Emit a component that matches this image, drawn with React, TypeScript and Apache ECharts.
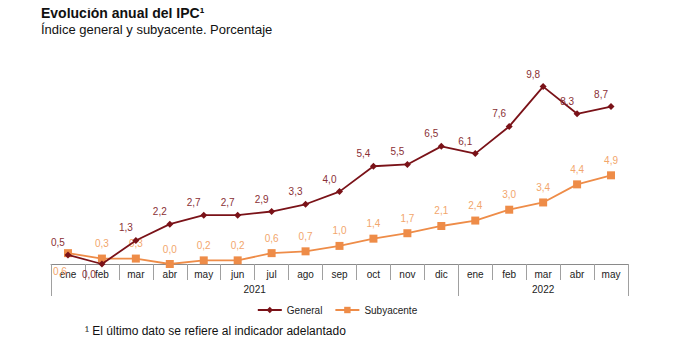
import React, { useEffect, useRef } from "react";
import * as echarts from "echarts";

const months = ["ene","feb","mar","abr","may","jun","jul","ago","sep","oct","nov","dic","ene","feb","mar","abr","may"];
const years = ["2021", "2022"];
const general = [0.5, 0.0, 1.3, 2.2, 2.7, 2.7, 2.9, 3.3, 4.0, 5.4, 5.5, 6.5, 6.1, 7.6, 9.8, 8.3, 8.7];
const subyacente = [0.6, 0.3, 0.3, 0.0, 0.2, 0.2, 0.6, 0.7, 1.0, 1.4, 1.7, 2.1, 2.4, 3.0, 3.4, 4.4, 4.9];

const RED = "#7a1218";
const ORANGE = "#ee8c48";
const fmt = (v: number) => v.toFixed(1).replace(".", ",");

export default function App() {
  const ref = useRef<HTMLDivElement>(null);
  useEffect(() => {
    if (!ref.current) return;
    const chart = echarts.init(ref.current, undefined, { renderer: "svg" });
    // year-row axis: 35 half-step points over 17 categories (boundaryGap false)
    const yearAxisData: string[] = [];
    for (let i = 0; i <= 34; i++) yearAxisData.push(i === 12 ? years[0] : i === 29 ? years[1] : "");
    const boundaries = [0, 24, 34];

    const genData = general.map((v, i) =>
      i === 1
        ? { value: v, label: { position: "bottom", offset: [-13, -2] } }
        : { value: v }
    );
    const subData = subyacente.map((v, i) =>
      i === 0
        ? { value: v, label: { position: "bottom", offset: [-8, 3] } }
        : { value: v }
    );

    chart.setOption({
      animation: false,
      textStyle: { fontFamily: "Liberation Sans, Arial, sans-serif" },
      title: {
        left: 36,
        top: 1,
        text: "Evolución anual del IPC¹",
        textStyle: { fontSize: 14, fontWeight: "bold", color: "#111" },
        subtext: "Índice general y subyacente. Porcentaje",
        subtextStyle: { fontSize: 13, color: "#111" },
        itemGap: 3,
      },
      legend: {
        top: 300,
        left: "center",
        itemWidth: 24,
        itemHeight: 8,
        itemGap: 12,
        textStyle: { fontSize: 10, color: "#222" },
        data: ["General", "Subyacente"],
      },
      graphic: [
        {
          type: "text",
          left: 85,
          top: 325,
          style: {
            text: "¹ El último dato se refiere al indicador adelantado",
            font: "12px Liberation Sans, Arial, sans-serif",
            fill: "#111",
          },
        },
      ],
      grid: { left: 51, right: 46, top: 83, bottom: 94, containLabel: false },
      xAxis: [
        {
          type: "category",
          data: months,
          boundaryGap: true,
          axisLine: { lineStyle: { color: "#8a8a8a", width: 1 } },
          axisTick: { show: true, length: 16, lineStyle: { color: "#a0a0a0" } },
          axisLabel: { fontSize: 10, color: "#222", margin: 5, interval: 0 },
        },
        {
          type: "category",
          data: yearAxisData,
          boundaryGap: false,
          position: "bottom",
          offset: 16,
          axisLine: { show: false },
          axisTick: {
            show: true,
            length: 16,
            interval: (idx: number) => boundaries.includes(idx),
            lineStyle: { color: "#a0a0a0" },
          },
          axisLabel: {
            fontSize: 10,
            color: "#222",
            margin: 4,
            interval: (idx: number) => idx === 12 || idx === 29,
          },
        },
      ],
      yAxis: {
        type: "value",
        min: 0,
        max: 10,
        show: false,
        splitLine: { show: false },
      },
      series: [
        {
          name: "General",
          type: "line",
          data: genData,
          symbol: "diamond",
          symbolSize: 7,
          itemStyle: { color: RED },
          lineStyle: { color: RED, width: 1.8 },
          label: {
            show: true,
            position: "top",
            distance: 4,
            offset: [-10, 0],
            fontSize: 10,
            color: "#8a3035",
            formatter: (p: any) => fmt(p.value),
          },
          z: 3,
        },
        {
          name: "Subyacente",
          type: "line",
          data: subData,
          symbol: "rect",
          symbolSize: 8,
          itemStyle: { color: ORANGE },
          lineStyle: { color: ORANGE, width: 1.8 },
          label: {
            show: true,
            position: "top",
            distance: 6,
            fontSize: 10,
            color: "#f2a66c",
            formatter: (p: any) => fmt(p.value),
          },
          z: 2,
        },
      ],
    });
    return () => chart.dispose();
  }, []);
  return <div ref={ref} style={{ width: 674, height: 358, marginLeft: -8, marginTop: -8 }} />;
}
